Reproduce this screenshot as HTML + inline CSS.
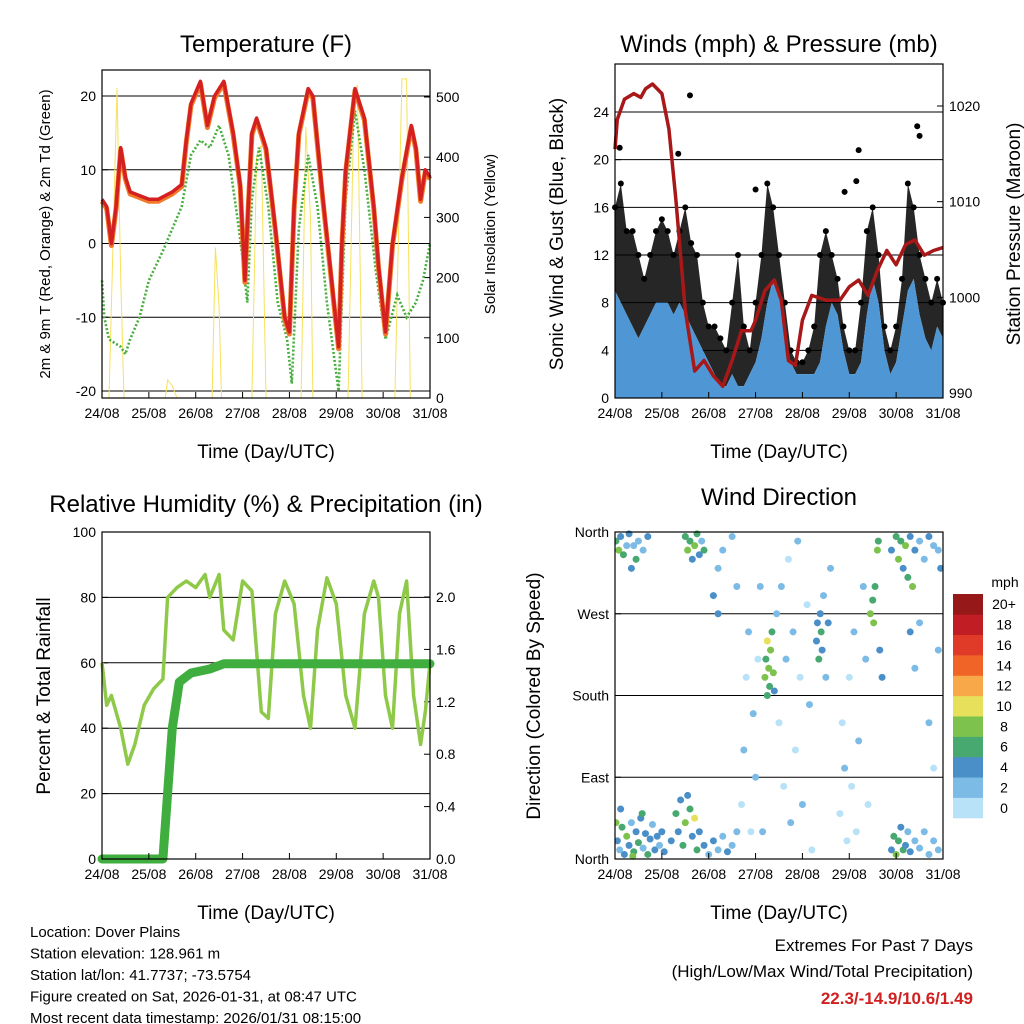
<!DOCTYPE html>
<html><head><meta charset="utf-8"><style>
body{margin:0;background:#fff}
svg{display:block;font-family:"Liberation Sans",sans-serif}
</style></head><body>
<svg id="s" width="1024" height="1024" viewBox="0 0 1024 1024"></svg>
<script>
// ---------- DATA ----------
const dayLabels=["24/08","25/08","26/08","27/08","28/08","29/08","30/08","31/08"];
const tempT=[24.0,24.1,24.2,24.3,24.4,24.5,24.6,24.8,25.0,25.2,25.5,25.7,25.8,25.9,26.1,26.25,26.4,26.6,26.8,26.95,27.05,27.12,27.2,27.3,27.5,27.7,27.9,28.0,28.1,28.2,28.4,28.5,28.7,28.9,29.05,29.12,29.2,29.4,29.6,29.8,29.9,30.05,30.2,30.4,30.6,30.7,30.8,30.9,31.0];
const tempV=[6,5,0,5,13,9,7,6.5,6,6,7,8,14,19,22,16,20,22,15,8,-5,5,15,17,13,2,-10,-12,5,15,21,20,7,-5,-14,0,10,21,17,5,-3,-12,0,9,16,13,6,10,9];
const dewT=[24.0,24.05,24.15,24.4,24.5,24.6,24.8,25.0,25.3,25.5,25.7,25.9,26.1,26.3,26.5,26.7,26.9,27.0,27.1,27.2,27.35,27.55,27.75,27.95,28.05,28.2,28.4,28.6,28.8,29.05,29.2,29.4,29.6,29.85,30.05,30.3,30.5,30.7,30.85,31.0];
const dewV=[-5,-10,-13,-14,-15,-13,-10,-5,-1,2,5,12,14,13,16,12,3,-2,-8,6,13,5,-8,-13,-19,2,12,5,-8,-20,6,18,10,-4,-13,-7,-10,-8,-5,0];
const solarT=[24.0,24.15,24.25,24.32,24.4,24.47,25.35,25.4,25.5,25.6,26.35,26.42,26.5,26.55,27.2,27.3,27.4,27.5,28.25,28.35,28.45,28.5,29.25,29.38,29.45,29.55,30.25,30.4,30.5,30.58,31.0];
const solarV=[0,0,300,515,200,0,0,30,20,0,0,250,150,0,0,400,420,0,0,450,300,0,0,500,520,0,0,530,530,0,0];
const windT=[24.0,24.125,24.25,24.375,24.5,24.625,24.75,24.875,25.0,25.125,25.25,25.375,25.5,25.625,25.75,25.875,26.0,26.125,26.25,26.375,26.5,26.625,26.75,26.875,27.0,27.125,27.25,27.375,27.5,27.625,27.75,27.875,28.0,28.125,28.25,28.375,28.5,28.625,28.75,28.875,29.0,29.125,29.25,29.375,29.5,29.625,29.75,29.875,30.0,30.125,30.25,30.375,30.5,30.625,30.75,30.875,31.0];
const windHi=[9,8,7,6,5,6,7,8,8,8,7,8,7,6,5,4,3,2,1,1,2,1,1,2,3,5,8,10,9,5,3,2,2,2,2,3,6,8,7,4,2,2,3,7,10,8,4,2,3,6,9,10,7,5,4,6,5];
const gustHi=[16,18,14,14,12,10,12,14,15,14,12,14,16,13,12,8,6,6,5,4,8,12,6,4,8,12,18,16,12,8,4,3,3,4,6,12,14,12,10,6,4,4,8,14,16,12,6,4,6,10,18,16,12,10,8,10,8];
const gustOutT=[24.1,25.6,25.35,27.0,28.9,29.2,29.15,30.45,30.5];
const gustOutV=[21,25.4,20.5,17.5,17.3,20.8,18.2,22.8,22];
const presT=[24.0,24.05,24.2,24.4,24.55,24.65,24.8,25.0,25.15,25.3,25.5,25.7,25.9,26.1,26.3,26.5,26.7,26.9,27.0,27.2,27.4,27.55,27.7,27.85,28.0,28.2,28.5,28.8,29.0,29.2,29.4,29.6,29.8,30.0,30.2,30.4,30.6,30.8,31.0];
const presV=[1015.5,1018.6,1020.7,1021.3,1020.9,1021.8,1022.3,1021.3,1017.6,1010.2,998.6,992.3,993.4,991.8,990.7,993.4,996.5,996.5,997.6,1000.7,1001.8,999.7,993.4,992.9,997.6,1000.2,999.7,999.7,1001.1,1001.8,1000.2,1002.8,1004.9,1003.4,1005.5,1006.0,1004.4,1004.9,1005.2];
const rhT=[24.0,24.1,24.2,24.4,24.55,24.7,24.9,25.1,25.3,25.4,25.6,25.8,26.0,26.2,26.3,26.5,26.6,26.8,27.0,27.2,27.4,27.55,27.7,27.9,28.1,28.3,28.45,28.6,28.8,29.0,29.2,29.4,29.6,29.8,29.9,30.05,30.2,30.35,30.5,30.65,30.8,30.9,31.0];
const rhV=[60,47,50,40,29,35,47,52,55,80,83,85,83,87,80,87,70,67,85,82,45,43,75,85,78,50,40,70,86,78,50,40,75,85,80,50,40,75,85,50,35,45,60];
const rainT=[24.0,25.3,25.4,25.5,25.65,25.9,26.3,26.6,31.0];
const rainV=[0,0,0.5,1.0,1.35,1.42,1.45,1.49,1.49];
const dirPts=[[24.05,20,4],[24.1,10,2],[24.15,35,6],[24.2,5,4],[24.25,25,8],[24.3,15,4],[24.35,40,2],[24.4,8,6],[24.45,30,4],[24.5,18,6],[24.55,45,4],[24.6,12,2],[24.65,28,4],[24.7,5,6],[24.75,22,4],[24.8,38,2],[24.85,10,4],[24.9,25,4],[24.95,15,2],[25.0,30,4],[25.05,8,4],[24.12,55,4],[24.38,3,8],[24.58,50,6],[24.02,40,8],
[24.02,350,6],[24.08,340,8],[24.12,355,4],[24.18,335,6],[24.25,345,2],[24.3,358,4],[24.35,320,4],[24.4,345,2],[24.5,350,2],[24.6,340,2],[24.7,355,4],[24.45,330,6],
[25.2,20,4],[25.3,50,6],[25.35,30,4],[25.4,65,4],[25.45,15,6],[25.5,40,8],[25.55,70,4],[25.6,55,6],[25.65,25,4],[25.7,45,10],[25.75,10,6],[25.8,30,4],[25.9,15,4],[26.0,5,2],[26.1,20,4],[26.2,10,2],[26.3,25,2],[26.4,8,4],[26.5,15,2],[26.6,30,2],
[25.5,355,6],[25.55,340,8],[25.6,350,6],[25.65,330,4],[25.7,345,8],[25.75,358,6],[25.8,335,4],[25.85,350,2],[25.9,340,6],[26.2,320,2],[26.3,340,2],[26.1,290,4],[26.2,270,4],[26.5,355,2],[26.6,300,2],
[26.7,60,0],[26.75,120,2],[26.8,200,0],[26.85,250,2],[26.9,30,0],[26.95,160,2],[27.0,90,2],[27.05,220,0],[27.1,300,2],[27.15,30,2],
[27.2,200,8],[27.22,220,6],[27.25,240,10],[27.28,210,8],[27.3,190,6],[27.32,230,8],[27.35,250,6],[27.38,205,8],[27.4,185,4],[27.25,180,6],
[27.45,270,2],[27.5,150,0],[27.55,300,2],[27.6,80,0],[27.65,220,2],[27.7,330,0],[27.75,40,2],[27.8,250,2],[27.85,120,0],[27.9,350,2],[27.95,200,0],[28.0,60,2],[28.1,280,0],[28.15,170,2],[28.2,10,0],
[28.3,240,4],[28.32,260,4],[28.35,220,6],[28.38,270,4],[28.4,250,6],[28.42,230,4],[28.45,290,2],[28.5,200,2],[28.55,260,4],[28.6,320,2],
[28.8,50,0],[28.85,150,0],[28.9,100,2],[28.95,20,0],[29.0,200,0],[29.05,80,0],[29.1,250,2],[29.15,30,0],[29.2,130,2],[29.3,300,2],[29.35,220,2],[29.4,60,0],
[29.45,270,8],[29.5,285,6],[29.52,260,8],[29.55,300,6],[29.6,340,8],[29.62,350,6],[29.65,230,4],[29.7,200,4],
[29.9,10,4],[29.95,25,6],[30.0,5,8],[30.05,20,6],[30.1,35,4],[30.15,10,6],[30.2,15,4],[30.25,30,2],[30.3,8,4],[30.4,20,2],[30.5,12,2],[30.6,30,2],[30.7,5,2],[30.8,20,2],[30.9,10,2],
[29.9,340,4],[30.0,355,6],[30.05,330,8],[30.1,350,6],[30.15,320,4],[30.2,345,8],[30.25,310,6],[30.3,355,4],[30.35,300,8],[30.4,340,4],[30.5,350,2],[30.6,330,2],[30.7,355,4],[30.8,345,2],[30.9,340,2],[30.95,320,4],
[30.3,250,4],[30.4,210,2],[30.5,260,2],[30.7,150,2],[30.8,100,0],[30.9,230,2]];
const speedLabels=["0","2","4","6","8","10","12","14","16","18","20+"];
const speedColors=["#b8e2f7","#7cbbe6","#4a8fc8","#47a870","#7cc24c","#e6e05a","#f8a848","#f06428","#e03a28","#c01e24","#961818"];

// ---------- HELPERS ----------
const S=document.getElementById('s');const NS="http://www.w3.org/2000/svg";
function el(tag,attrs,parent){const e=document.createElementNS(NS,tag);for(const k in attrs)e.setAttribute(k,attrs[k]);(parent||S).appendChild(e);return e;}
function txt(x,y,s,size,anchor,parent,extra){const t=el('text',Object.assign({x:x,y:y,'font-size':size,'text-anchor':anchor||'middle',fill:'#000'},extra||{}),parent);t.textContent=s;return t;}
function lin(d0,d1,p0,p1){return v=>p0+(v-d0)*(p1-p0)/(d1-d0);}
function pathOf(ts,vs,X,Y){return ts.map((t,i)=>(i?'L':'M')+X(t).toFixed(1)+','+Y(vs[i]).toFixed(1)).join('');}
function frame(g,x0,y0,x1,y1,X,name){
  el('rect',{x:x0,y:y0,width:x1-x0,height:y1-y0,fill:'none',stroke:'#000','stroke-width':1.2},g);
  dayLabels.forEach((d,i)=>{const x=X(24+i);el('line',{x1:x,y1:y1,x2:x,y2:y1-6,stroke:'#000'},g);
    const t=txt(x,y1+20,d,14,'middle',g);});
}
function leftTicks(g,x0,x1,Y,vals,labels,grid,name){vals.forEach((v,i)=>{const y=Y(v);
  if(grid)el('line',{x1:x0,y1:y,x2:x1,y2:y,stroke:'#000','stroke-width':1},g);
  el('line',{x1:x0,y1:y,x2:x0+6,y2:y,stroke:'#000'},g);
  const t=txt(x0-6,y+5,labels[i],14,'end',g);});}
function rightTicks(g,x1,Y,vals,labels,name){vals.forEach((v,i)=>{const y=Y(v);
  el('line',{x1:x1,y1:y,x2:x1-6,y2:y,stroke:'#000'},g);
  const t=txt(x1+6,y+5,labels[i],14,'start',g);});}
function vlabel(x,y,s,size,g,name){const t=txt(0,0,s,size,'middle',g,{transform:`translate(${x},${y}) rotate(-90)`});return t;}
function group(name){const g=el('g',{});return g;}

// ---------- PANEL 1: Temperature ----------
(function(){
 const g=group('temperature-panel');const x0=102,x1=430,y0=70,y1=398;
 const X=lin(24,31,x0,x1),Y=lin(-20,20,391,96),Y2=lin(0,500,398,97);
 leftTicks(g,x0,x1,Y,[-20,-10,0,10,20],["-20","-10","0","10","20"],true,'temperature');
 rightTicks(g,x1,Y2,[0,100,200,300,400,500],["0","100","200","300","400","500"],'solar');
 const cp=el('clipPath',{id:'c1'},g);el('rect',{x:x0,y:y0,width:x1-x0,height:y1-y0},cp);
 const s=el('path',{d:pathOf(solarT,solarV,X,Y2),fill:'none',stroke:'#f7e15a','stroke-width':1,'clip-path':'url(#c1)'},g);
 
 const dw=el('path',{d:pathOf(dewT,dewV,X,Y),fill:'none',stroke:'#46ae3c','stroke-width':2.6,'stroke-dasharray':'2 2'},g);
 
 const o=el('path',{d:pathOf(tempT,tempV,X,Y),fill:'none',stroke:'#f07a2a','stroke-width':5,'stroke-linejoin':'round',transform:'translate(0,2)'},g);
 
 const r=el('path',{d:pathOf(tempT,tempV,X,Y),fill:'none',stroke:'#d42020','stroke-width':3.5,'stroke-linejoin':'round'},g);
 
 frame(g,x0,y0,x1,y1,X,'temperature');
 const t=txt(266,52,"Temperature (F)",24,'middle',g);
 const xl=txt(266,458,"Time (Day/UTC)",19,'middle',g);
 vlabel(50,234,"2m & 9m T (Red, Orange) & 2m Td (Green)",15,g,'temperature-y-title');
 vlabel(495,234,"Solar Insolation (Yellow)",15,g,'solar-y-title');
})();

// ---------- PANEL 2: Winds ----------
(function(){
 const g=group('winds-panel');const x0=615,x1=943,y0=64,y1=398;
 const X=lin(24,31,x0,x1),Y=lin(0,24,398,112),Y2=lin(990,1020,393,106);
 leftTicks(g,x0,x1,Y,[0,4,8,12,16,20,24],["0","4","8","12","16","20","24"],true,'wind');
 rightTicks(g,x1,Y2,[990,1000,1010,1020],["990","1000","1010","1020"],'pressure');
 let d='';windT.forEach((t,i)=>{d+=(i?'L':'M')+X(t)+','+Y(gustHi[i]);});
 for(let i=windT.length-1;i>=0;i--)d+='L'+X(windT[i])+','+Y(windHi[i]);
 const gb=el('path',{d:d,fill:'#000','fill-opacity':0.85},g);
 windT.forEach((t,i)=>{const c=el('circle',{cx:X(t),cy:Y(gustHi[i]),r:3,fill:'#000'},g);
   });
 gustOutT.forEach((t,i)=>{const c=el('circle',{cx:X(t),cy:Y(gustOutV[i]),r:3,fill:'#000'},g);
   });
 let b='';windT.forEach((t,i)=>{b+=(i?'L':'M')+X(t)+','+Y(windHi[i]);});b+='L'+x1+','+Y(0)+'L'+x0+','+Y(0)+'Z';
 const wb=el('path',{d:b,fill:'#4f97d4'},g);
 const p=el('path',{d:pathOf(presT,presV,X,Y2),fill:'none',stroke:'#a81818','stroke-width':3.5,'stroke-linejoin':'round'},g);
 
 frame(g,x0,y0,x1,y1,X,'winds');
 const t=txt(779,52,"Winds (mph) & Pressure (mb)",24,'middle',g);
 const xl=txt(779,458,"Time (Day/UTC)",19,'middle',g);
 vlabel(563,234,"Sonic Wind & Gust (Blue, Black)",19,g,'wind-y-title');
 vlabel(1020,234,"Station Pressure (Maroon)",19,g,'pressure-y-title');
})();

// ---------- PANEL 3: RH ----------
(function(){
 const g=group('humidity-panel');const x0=102,x1=430,y0=532,y1=859;
 const X=lin(24,31,x0,x1),Y=lin(0,100,859,532),Y2=lin(0,2,859,597);
 leftTicks(g,x0,x1,Y,[0,20,40,60,80,100],["0","20","40","60","80","100"],true,'humidity');
 rightTicks(g,x1,Y2,[0,0.4,0.8,1.2,1.6,2.0],["0.0","0.4","0.8","1.2","1.6","2.0"],'rain');
 const h=el('path',{d:pathOf(rhT,rhV,X,Y),fill:'none',stroke:'#8fc94a','stroke-width':3.5,'stroke-linejoin':'round'},g);
 
 const r=el('path',{d:pathOf(rainT,rainV,X,Y2),fill:'none',stroke:'#3fae3f','stroke-width':9,'stroke-linejoin':'round','stroke-linecap':'round'},g);
 
 frame(g,x0,y0,x1,y1,X,'humidity');
 const t=txt(266,512,"Relative Humidity (%) & Precipitation (in)",24,'middle',g);
 const xl=txt(266,919,"Time (Day/UTC)",19,'middle',g);
 vlabel(50,696,"Percent & Total Rainfall",19,g,'humidity-y-title');
})();

// ---------- PANEL 4: Wind direction ----------
(function(){
 const g=group('wind-direction-panel');const x0=615,x1=943,y0=532,y1=859;
 const X=lin(24,31,x0,x1),Y=lin(0,360,859,532);
 leftTicks(g,x0,x1,Y,[0,90,180,270,360],["North","East","South","West","North"],true,'direction');
 const cp=el('clipPath',{id:'c4'},g);el('rect',{x:x0,y:y0-4,width:x1-x0,height:y1-y0+8},cp);
 dirPts.forEach(p=>{const ci=Math.min(10,Math.floor(p[2]/2));
   const c=el('circle',{cx:X(p[0]),cy:Y(p[1]),r:3.5,fill:speedColors[ci],'clip-path':'url(#c4)'},g);
   });
 frame(g,x0,y0,x1,y1,X,'direction');
 const t=txt(779,505,"Wind Direction",24,'middle',g);
 const xl=txt(779,919,"Time (Day/UTC)",19,'middle',g);
 vlabel(540,696,"Direction (Colored By Speed)",19,g,'direction-y-title');
 const lg=group('speed-colorbar');
 const u=txt(1005,587,"mph",14,'middle',lg);
 const h=(818-594)/11;
 speedColors.forEach((c,i)=>{const y=818-(i+1)*h;
   const r=el('rect',{x:953,y:y,width:30,height:h+0.3,fill:c},lg);
   const l=txt(1004,y+h/2+5,speedLabels[i],14,'middle',lg);});
})();

// ---------- Footer ----------
(function(){
 const g=group('station-info');
 ["Location: Dover Plains","Station elevation: 128.961 m","Station lat/lon: 41.7737; -73.5754","Figure created on Sat, 2026-01-31, at 08:47 UTC","Most recent data timestamp: 2026/01/31 08:15:00"]
 .forEach((s,i)=>{const t=txt(30,937+i*21.5,s,15,'start',g);});
 const e=group('extremes');
 const a=txt(973,951,"Extremes For Past 7 Days",17,'end',e);
 const b=txt(973,977,"(High/Low/Max Wind/Total Precipitation)",17,'end',e);
 const c=txt(973,1004,"22.3/-14.9/10.6/1.49",17,'end',e,{fill:'#d02020','font-weight':'bold'});
})();
</script>
</body></html>
